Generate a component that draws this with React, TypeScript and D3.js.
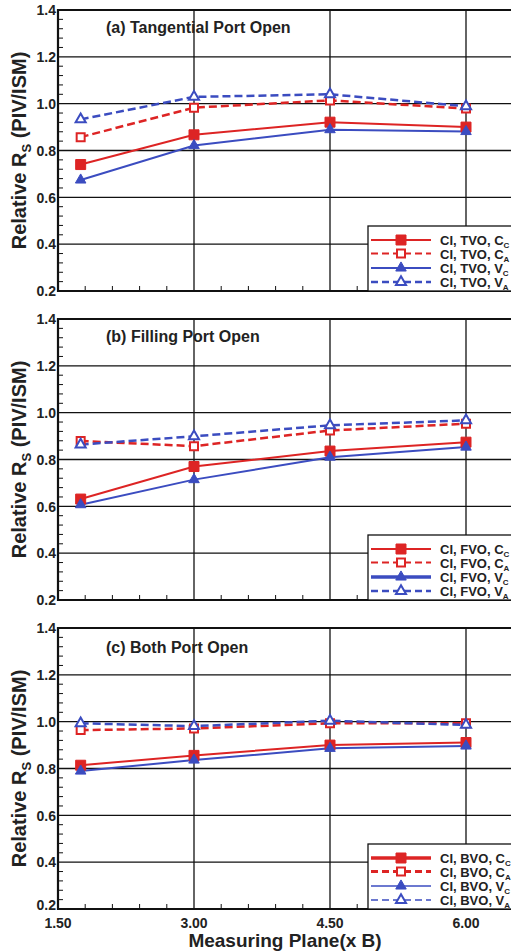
import React, { useRef, useEffect } from "react";
import * as d3 from "d3";

const planes = [1.75, 3.0, 4.5, 6.0];
const xTicks = [1.5, 3.0, 4.5, 6.0];
const yTicks = [0.2, 0.4, 0.6, 0.8, 1.0, 1.2, 1.4];

const panelTitles = ["(a) Tangential Port Open", "(b) Filling Port Open", "(c) Both Port Open"];
const caseCodes = ["TVO", "FVO", "BVO"];

const tangCC = [0.74, 0.867, 0.921, 0.9];
const tangCA = [0.857, 0.983, 1.014, 0.979];
const tangVC = [0.674, 0.821, 0.889, 0.881];
const tangVA = [0.933, 1.029, 1.04, 0.989];

const fillCC = [0.631, 0.77, 0.836, 0.874];
const fillCA = [0.879, 0.857, 0.924, 0.953];
const fillVC = [0.607, 0.714, 0.81, 0.853];
const fillVA = [0.864, 0.899, 0.946, 0.967];

const bothCC = [0.814, 0.856, 0.9, 0.911];
const bothCA = [0.964, 0.971, 0.993, 0.993];
const bothVC = [0.789, 0.836, 0.886, 0.896];
const bothVA = [0.993, 0.981, 1.004, 0.986];

const RED = "#dd2424";
const BLUE = "#3b4cc0";
const FONT = "'Liberation Sans', Arial, sans-serif";

// series look: colour, dashed?, marker, filled?, subscript
const seriesStyle = [
  { color: RED, dash: null, shape: "square", filled: true, letter: "C", sub: "C" },
  { color: RED, dash: "8,4", shape: "square", filled: false, letter: "C", sub: "A" },
  { color: BLUE, dash: null, shape: "triangle", filled: true, letter: "V", sub: "C" },
  { color: BLUE, dash: "8,4", shape: "triangle", filled: false, letter: "V", sub: "A" },
];

// legend line widths differ a little between the panels in the original
const legendWidths = [
  [2, 2, 2, 2.5],
  [2, 2, 3.5, 2.5],
  [3.5, 3, 1.5, 1.5],
];

const W = 511;
const H = 951;
const panelTops = [10, 319, 628];
const PH = 281;
const LEFT = 58;

const markerPath = (st) =>
  st.shape === "square"
    ? d3.symbol().type(d3.symbolSquare).size(st.filled ? 100 : 64)()
    : d3.symbol().type(d3.symbolTriangle).size(st.filled ? 48 : 44)();

const App = () => {
  const svgRef = useRef(null);

  useEffect(() => {
    const svg = d3.select(svgRef.current);
    svg.selectAll("*").remove();

    const x = d3.scaleLinear().domain([1.5, 6.0]).range([LEFT, 466]);
    const xRight = W + 10;

    const panelData = [
      [tangCC, tangCA, tangVC, tangVA],
      [fillCC, fillCA, fillVC, fillVA],
      [bothCC, bothCA, bothVC, bothVA],
    ];

    panelData.forEach((series, pi) => {
      const top = panelTops[pi];
      const bottom = top + PH;
      const y = d3.scaleLinear().domain([0.2, 1.4]).range([bottom, top]);
      const g = svg.append("g");

      // grid
      g.selectAll(".hgrid")
        .data(yTicks.filter((v) => v > 0.2 && v < 1.4))
        .join("line")
        .attr("x1", LEFT).attr("x2", xRight)
        .attr("y1", (d) => y(d)).attr("y2", (d) => y(d))
        .attr("stroke", "#111").attr("stroke-width", 1.3);
      g.selectAll(".vgrid")
        .data(xTicks.filter((v) => v > 1.5))
        .join("line")
        .attr("x1", (d) => x(d)).attr("x2", (d) => x(d))
        .attr("y1", top).attr("y2", bottom)
        .attr("stroke", "#111").attr("stroke-width", 1.3);

      // minor ticks
      const yMinor = d3.range(0.24, 1.4, 0.04).filter((v) => Math.abs(v * 5 - Math.round(v * 5)) > 0.01);
      g.selectAll(".ymin")
        .data(yMinor)
        .join("line")
        .attr("x1", LEFT).attr("x2", LEFT + 5)
        .attr("y1", (d) => y(d)).attr("y2", (d) => y(d))
        .attr("stroke", "#111").attr("stroke-width", 1);
      const xMinor = d3.range(1.8, 6.7, 0.3).filter((v) => Math.abs(v / 1.5 - Math.round(v / 1.5)) > 0.01);
      g.selectAll(".xmin")
        .data(xMinor)
        .join("line")
        .attr("x1", (d) => x(d)).attr("x2", (d) => x(d))
        .attr("y1", bottom).attr("y2", bottom - 5)
        .attr("stroke", "#111").attr("stroke-width", 1);

      // frame
      g.append("path")
        .attr("d", `M${xRight},${top}H${LEFT}V${bottom}H${xRight}`)
        .attr("fill", "none").attr("stroke", "#111").attr("stroke-width", 2.2);

      // series
      const lineGen = d3.line<number>().x((d, i) => x(planes[i])).y((d) => y(d));
      series.forEach((vals, si) => {
        const st = seriesStyle[si];
        g.append("path")
          .datum(vals)
          .attr("d", lineGen)
          .attr("fill", "none")
          .attr("stroke", st.color)
          .attr("stroke-width", st.dash ? 2.5 : 2)
          .attr("stroke-dasharray", st.dash);
      });
      series.forEach((vals, si) => {
        const st = seriesStyle[si];
        g.selectAll(`.m${si}`)
          .data(vals)
          .join("path")
          .attr("transform", (d, i) => `translate(${x(planes[i])},${y(d)})`)
          .attr("d", markerPath(st))
          .attr("fill", st.filled ? st.color : "#fff")
          .attr("stroke", st.color)
          .attr("stroke-width", st.filled ? 1 : 2);
      });

      // panel title
      g.append("text")
        .attr("x", 106).attr("y", top + (pi === 2 ? 25 : 23))
        .attr("font-family", FONT).attr("font-weight", "bold").attr("font-size", 16)
        .attr("fill", "#222")
        .text(panelTitles[pi]);

      // y tick labels (bottom one nudged up on the last panel, as in the original)
      g.selectAll(".ylab")
        .data(yTicks)
        .join("text")
        .attr("x", 56).attr("y", (d) => y(d))
        .attr("dy", (d) => (pi === 2 && d === 0.2 ? "0.05em" : "0.38em"))
        .attr("text-anchor", "end")
        .attr("font-family", FONT).attr("font-weight", "bold").attr("font-size", 14)
        .attr("fill", "#222")
        .text((d) => d3.format(".1f")(d));

      // y title
      const yt = g.append("text")
        .attr("transform", `translate(26,${(top + bottom) / 2}) rotate(-90)`)
        .attr("text-anchor", "middle")
        .attr("font-family", FONT).attr("font-weight", "bold").attr("font-size", 20)
        .attr("fill", "#222");
      yt.append("tspan").text("Relative R");
      yt.append("tspan").attr("dy", 5).attr("font-size", 13).text("S");
      yt.append("tspan").attr("dy", -5).text(" (PIV/ISM)");

      // legend
      const lx = 368;
      const lg = g.append("g");
      lg.append("rect")
        .attr("x", lx).attr("y", bottom - 65)
        .attr("width", xRight - lx).attr("height", 65)
        .attr("fill", "#fff").attr("stroke", "#111").attr("stroke-width", 1.3);
      const rowY = [bottom - 51, bottom - 37.5, bottom - 23, bottom - 9];
      seriesStyle.forEach((st, si) => {
        const ry = rowY[si];
        lg.append("line")
          .attr("x1", lx + 3).attr("x2", lx + 63)
          .attr("y1", ry).attr("y2", ry)
          .attr("stroke", st.color)
          .attr("stroke-width", legendWidths[pi][si])
          .attr("stroke-dasharray", st.dash ? "7,4" : null);
        lg.append("path")
          .attr("transform", `translate(${lx + 33},${ry})`)
          .attr("d", markerPath(st))
          .attr("fill", st.filled ? st.color : "#fff")
          .attr("stroke", st.color)
          .attr("stroke-width", st.filled ? 1 : 2);
        const t = lg.append("text")
          .attr("x", lx + 72).attr("y", ry + 5)
          .attr("font-family", FONT).attr("font-weight", "bold").attr("font-size", 13)
          .attr("fill", "#222");
        t.append("tspan").text(`CI, ${caseCodes[pi]}, ${st.letter}`);
        t.append("tspan").attr("dy", 3).attr("font-size", 8).text(st.sub);
      });

      // x tick labels on the last panel only
      if (pi === 2) {
        g.selectAll(".xlab")
          .data(xTicks)
          .join("text")
          .attr("x", (d) => x(d)).attr("y", bottom + 19)
          .attr("text-anchor", "middle")
          .attr("font-family", FONT).attr("font-weight", "bold").attr("font-size", 14)
          .attr("fill", "#222")
          .text((d) => d3.format(".2f")(d));
        g.append("text")
          .attr("x", 285).attr("y", bottom + 38)
          .attr("text-anchor", "middle")
          .attr("font-family", FONT).attr("font-weight", "bold").attr("font-size", 19)
          .attr("fill", "#222")
          .text("Measuring Plane(x B)");
      }
    });
  }, []);

  return (
    <>
      <style>{`body{margin:0;background:#fff}`}</style>
      <svg ref={svgRef} width={W} height={H} style={{ display: "block" }} />
    </>
  );
};

export default App;
